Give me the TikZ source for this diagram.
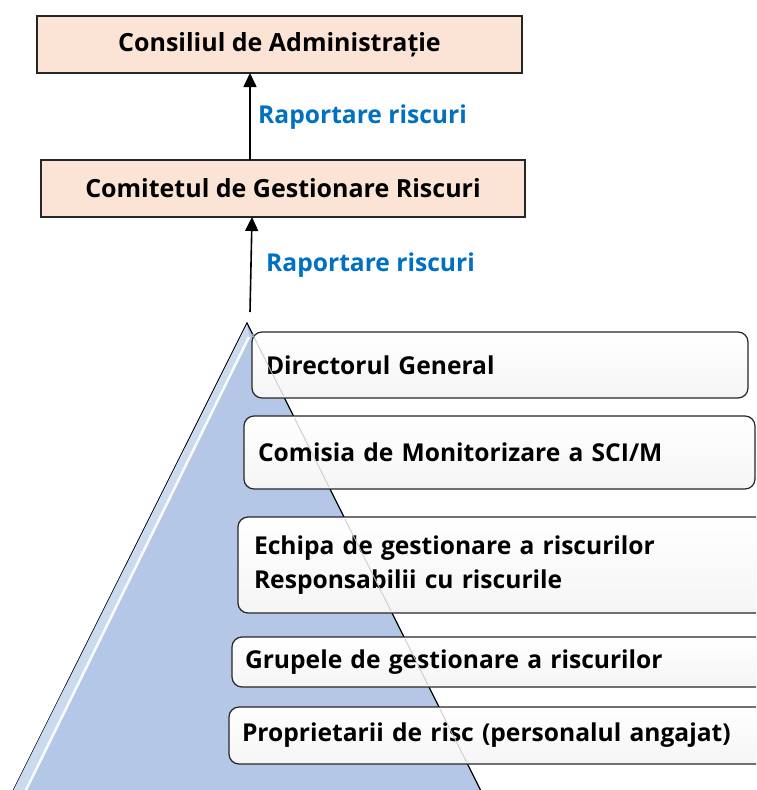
\documentclass[tikz,border=0pt]{standalone}
\usepackage{fontspec}
\setmainfont{Open Sans}
\usetikzlibrary{arrows.meta,calc}
\definecolor{peach}{HTML}{FBE4D5}
\definecolor{pyrblue}{HTML}{B4C7E7}
\definecolor{pyrlight}{HTML}{CCDAF0}
\definecolor{lblue}{HTML}{0070C0}
\begin{document}
\begin{tikzpicture}[x=1pt,y=-1pt,
  topbox/.style={draw=black!85, line width=1.2pt, fill=peach, minimum height=57pt, inner sep=0pt, outer sep=0pt, font=\bfseries\fontsize{25}{28}\selectfont},
  lvl/.style={draw=black!85, line width=1.2pt, rounded corners=10pt, top color=white, bottom color=black!4, anchor=north west, align=left, inner ysep=0pt, outer sep=0pt, font=\bfseries\fontsize{24.6}{34}\selectfont},
  lbl/.style={text=lblue, anchor=west, inner sep=0pt, font=\bfseries\fontsize{24.6}{28}\selectfont},
  arr/.style={line width=1.6pt, -{Triangle[length=14pt,width=13pt]}},
  faint/.style={black!22, line width=0.7pt}]
\useasboundingbox (0,0) rectangle (756,790);
\clip (0,0) rectangle (756,790);
% pyramid
\path[draw=black, line width=1.2pt, fill=pyrblue] (8.5,800) -- (247,323) -- (485.5,800);
\fill[pyrlight] (247,324) -- (8.5,800) -- (21,800) -- (249,336) -- cycle;
\draw[white, line width=2.5pt, opacity=.9] (249,337) -- (25,792);
% top boxes
\node[topbox, minimum width=485pt] (b1) at (279.5,44.5) {Consiliul de Administrație};
\node[topbox, minimum width=484pt] (b2) at (283,188.5) {Comitetul de Gestionare Riscuri};
\coordinate (a1) at (250,0);
\coordinate (a2) at (252,0);
\coordinate (base) at (250,312);
\draw[arr] (b2.north -| a1) -- (b1.south -| a1);
\draw[arr] (base) -- (b2.south -| a2);
\node[lbl] (l1) at (258,117) {Raportare riscuri};
\node[lbl] (l2) at (266,265) {Raportare riscuri};
% levels
\node[lvl, inner xsep=14pt, text width=468pt, minimum height=66pt] (d) at (252,332) {Directorul General};
\node[lvl, inner xsep=14pt, text width=483pt, minimum height=73pt] (c) at (244,416) {Comisia de Monitorizare a SCI/M};
\node[lvl, inner xsep=16pt, text width=530pt, minimum height=96pt] (e) at (238,517) {Echipa de gestionare a riscurilor\\Responsabilii cu riscurile};
\node[lvl, inner xsep=13pt, text width=542pt, minimum height=50pt] (g) at (232,637) {Grupele de gestionare a riscurilor};
\node[lvl, inner xsep=13pt, text width=545pt, minimum height=57pt] (p) at (229,707) {Proprietarii de risc (personalul angajat)};
% faint pyramid edge seen through the boxes
\foreach \a/\b in {334/396, 418/487, 519/611, 639/685, 709/762}
  \draw[faint] ({247+0.5*(\a-323)},\a) -- ({247+0.5*(\b-323)},\b);
\end{tikzpicture}
\end{document}
